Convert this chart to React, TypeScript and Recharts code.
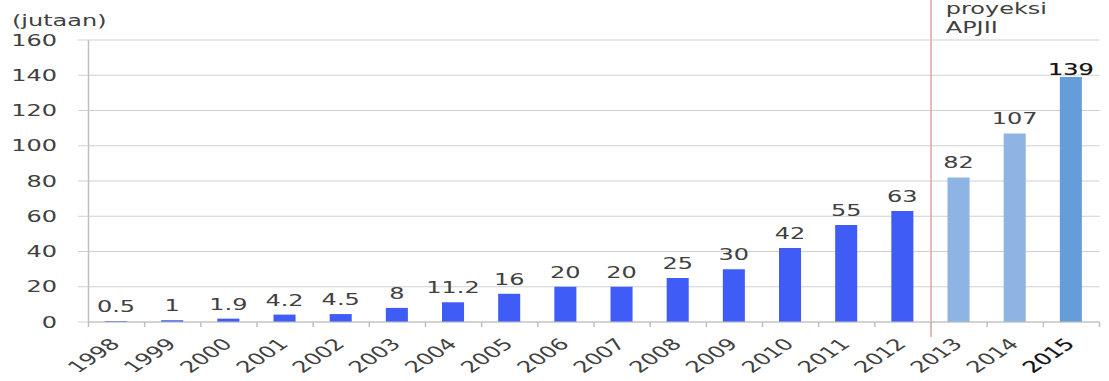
import React from 'react';
import { BarChart, Bar, XAxis, YAxis, CartesianGrid, Cell, LabelList, ReferenceLine } from 'recharts';

const years = ['1998','1999','2000','2001','2002','2003','2004','2005','2006','2007','2008','2009','2010','2011','2012','2013','2014','2015'];
const users = [0.5, 1, 1.9, 4.2, 4.5, 8, 11.2, 16, 20, 20, 25, 30, 42, 55, 63, 82, 107, 139];
const yTicks = [0, 20, 40, 60, 80, 100, 120, 140, 160];
const projectionStart = '2013';
const barColors = ['#3f5cf6', '#8db4e2', '#8db4e2', '#659ddb'];

const data = years.map((y, i) => ({ year: y, value: users[i] }));

const FONT = '"DejaVu Sans", Verdana, sans-serif';
const TEXT = '#404040';
const FS = 16;

function colorFor(i: number) {
  const ps = years.indexOf(projectionStart);
  if (i < ps) return barColors[0];
  return barColors[1 + (i - ps)] || barColors[barColors.length - 1];
}

const YearTick = (props: any) => {
  const { x, y, payload, index } = props;
  const off = payload.offset || 0;
  const last = index === years.length - 1;
  return (
    <g>
      <line x1={x - off} y1={y} x2={x - off} y2={y + 5} stroke="#bfbfbf" />
      {last && <line x1={x + off} y1={y} x2={x + off} y2={y + 5} stroke="#bfbfbf" />}
      <text
        x={x + 3}
        y={y + 23}
        transform={`rotate(-45, ${x + 3}, ${y + 23})`}
        textAnchor="end"
        fontFamily={FONT}
        fontSize={FS}
        fill={last ? '#111' : TEXT}
        stroke={last ? '#111' : 'none'}
        strokeWidth={last ? 0.2 : 0}
      >
        {payload.value}
      </text>
    </g>
  );
};

const BarLabel = (props: any) => {
  const { x, y, width, value, index } = props;
  const last = index === users.length - 1;
  return (
    <text
      x={x + width / 2}
      y={y - (last ? 2 : 9)}
      textAnchor="middle"
      fontFamily={FONT}
      fontSize={FS}
      fill={last ? '#111' : TEXT}
      stroke={last ? '#111' : 'none'}
      strokeWidth={last ? 0.2 : 0}
    >
      {value}
    </text>
  );
};

const RedLine = (props: any) => {
  const { x1 } = props;
  return <line x1={x1} y1={0} x2={x1} y2={337} stroke="#dba3a3" strokeWidth={1} />;
};

export default function App() {
  return (
    <div
      style={{
        position: 'absolute',
        left: 0,
        top: 0,
        width: 739,
        height: 381,
        transform: 'scaleX(1.5)',
        transformOrigin: '0 0',
        background: '#fff',
      }}
    >
      <BarChart
        width={739}
        height={381}
        data={data}
        margin={{ top: 40, right: 6, bottom: 0, left: 0 }}
        barCategoryGap={0}
      >
        <CartesianGrid vertical={false} stroke="#d0d0d0" />
        <YAxis
          domain={[0, 160]}
          ticks={yTicks}
          width={59}
          tickSize={7}
          tickMargin={14}
          axisLine={{ stroke: '#bfbfbf' }}
          tickLine={{ stroke: '#d0d0d0' }}
          tick={{ fontFamily: FONT, fontSize: FS, fill: TEXT }}
          interval={0}
        />
        <XAxis
          dataKey="year"
          height={59}
          interval={0}
          tickSize={0}
          tickMargin={0}
          tickLine={false}
          axisLine={{ stroke: '#bfbfbf' }}
          tick={<YearTick />}
        />
        <ReferenceLine x={projectionStart} position="start" ifOverflow="visible" shape={<RedLine />} />
        <Bar dataKey="value" barSize={14.7} isAnimationActive={false}>
          {data.map((d, i) => (
            <Cell key={d.year} fill={colorFor(i)} />
          ))}
          <LabelList dataKey="value" content={<BarLabel />} />
        </Bar>
      </BarChart>
      <svg
        width={739}
        height={381}
        style={{ position: 'absolute', left: 0, top: 0, pointerEvents: 'none' }}
      >
        <text x={8} y={26} fontFamily={FONT} fontSize={FS} fill={TEXT}>(jutaan)</text>
        <text x={630.5} y={14} fontFamily={FONT} fontSize={FS} fill={TEXT}>proyeksi</text>
        <text x={630.5} y={33} fontFamily={FONT} fontSize={FS} fill={TEXT}>APJII</text>
      </svg>
    </div>
  );
}
